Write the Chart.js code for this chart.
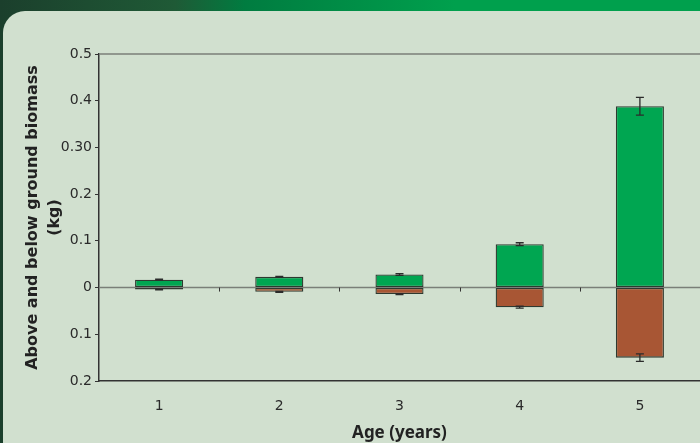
<!DOCTYPE html>
<html>
<head>
<meta charset="utf-8">
<script src="https://cdn.jsdelivr.net/npm/chart.js@4"></script>
<style>
  html, body { margin: 0; padding: 0; }
  body {
    width: 700px; height: 443px; overflow: hidden; position: relative;
    background: linear-gradient(90deg, #1b3f2c 0%, #1f5a36 25%, #007c40 35%, #00a04d 65%, #00a04d 100%);
  }
  #panel {
    position: absolute; left: 3px; top: 11px; right: 0; bottom: 0;
    background: #d1e0cf; border-top-left-radius: 22px;
  }
  #chart { position: absolute; left: 0; top: 0; }
</style>
</head>
<body>
<div id="panel"></div>
<canvas id="chart" width="700" height="443"></canvas>
<script>
const ages = ['1', '2', '3', '4', '5'];
const aboveGround = [0.017, 0.023, 0.028, 0.093, 0.388];
const belowGround = [-0.004, -0.009, -0.014, -0.042, -0.150];
const aboveErr = [0.001, 0.001, 0.002, 0.003, 0.019];
const belowErr = [0.001, 0.001, 0.001, 0.002, 0.008];
const yTicks = [0.5, 0.4, 0.3, 0.2, 0.1, 0, -0.1, -0.2];

// error bars drawn through the y scale
const errorBars = {
    id: 'errorBars',
    afterDatasetsDraw(chart) {
        const ctx = chart.ctx;
        const y = chart.scales.y;
        ctx.save();
        ctx.strokeStyle = '#2b2b2b';
        ctx.lineWidth = 1.3;
        chart.data.datasets.forEach((ds, di) => {
            const meta = chart.getDatasetMeta(di);
            meta.data.forEach((bar, i) => {
                const v = ds.data[i];
                const e = ds.errors[i];
                const y1 = y.getPixelForValue(v + e);
                const y2 = y.getPixelForValue(v - e);
                ctx.beginPath();
                ctx.moveTo(bar.x, y1);
                ctx.lineTo(bar.x, y2);
                ctx.moveTo(bar.x - 4, y1);
                ctx.lineTo(bar.x + 4, y1);
                ctx.moveTo(bar.x - 4, y2);
                ctx.lineTo(bar.x + 4, y2);
                ctx.stroke();
            });
        });
        ctx.restore();
    }
};

// grey lines at top and zero, small category ticks on the zero line
const refLines = {
    id: 'refLines',
    beforeDatasetsDraw(chart) {
        const ctx = chart.ctx;
        const x = chart.scales.x;
        const y = chart.scales.y;
        const area = chart.chartArea;
        ctx.save();
        ctx.strokeStyle = '#7a7f78';
        ctx.lineWidth = 1.5;
        [0.5, 0].forEach(v => {
            const py = y.getPixelForValue(v);
            ctx.beginPath();
            ctx.moveTo(area.left, py);
            ctx.lineTo(area.right, py);
            ctx.stroke();
        });
        const y0 = y.getPixelForValue(0);
        ctx.strokeStyle = '#333';
        ctx.lineWidth = 1;
        for (let i = 1; i < ages.length; i++) {
            const px = Math.round((x.getPixelForValue(i - 1) + x.getPixelForValue(i)) / 2) + 0.5;
            ctx.beginPath();
            ctx.moveTo(px, y0);
            ctx.lineTo(px, y0 + 4);
            ctx.stroke();
        }
        ctx.restore();
    }
};

new Chart(document.getElementById('chart'), {
    type: 'bar',
    data: {
        labels: ages,
        datasets: [
            {
                label: 'Above ground',
                data: aboveGround,
                errors: aboveErr,
                backgroundColor: '#00a651',
                borderColor: '#2e3a30',
                borderWidth: 1.3,
                borderSkipped: false
            },
            {
                label: 'Below ground',
                data: belowGround,
                errors: belowErr,
                backgroundColor: '#a85634',
                borderColor: '#2e3a30',
                borderWidth: 1.3,
                borderSkipped: false
            }
        ]
    },
    options: {
        responsive: false,
        animation: false,
        devicePixelRatio: 1,
        layout: { padding: { top: 54, right: 0, left: 0, bottom: 0 } },
        plugins: {
            legend: { display: false },
            tooltip: { enabled: false }
        },
        datasets: {
            bar: { categoryPercentage: 1, barPercentage: 0.4 }
        },
        scales: {
            x: {
                stacked: true,
                grid: { display: false },
                border: { display: true, color: '#333', width: 1.5 },
                ticks: {
                    color: '#2a2a2a',
                    font: { family: 'DejaVu Sans', size: 14 },
                    padding: 9
                },
                title: {
                    display: true,
                    text: 'Age (years)',
                    color: '#222',
                    font: { family: 'Noto Sans', size: 17, weight: 'bold' },
                    padding: { top: 0, bottom: 0 }
                },
                afterFit(scale) { scale.height = 62; }
            },
            y: {
                stacked: true,
                min: -0.2,
                max: 0.5,
                afterBuildTicks(scale) {
                    scale.ticks = yTicks.map(v => ({ value: v }));
                },
                grid: {
                    drawOnChartArea: false,
                    drawTicks: true,
                    tickLength: 4,
                    tickColor: '#333'
                },
                border: { display: true, color: '#333', width: 1.5 },
                ticks: {
                    color: '#2a2a2a',
                    font: { family: 'DejaVu Sans', size: 14 },
                    padding: 3,
                    callback(v) {
                        if (Math.abs(v - 0.3) < 1e-9) return '0.30';
                        if (Math.abs(v) < 1e-9) return '0';
                        return Math.abs(v).toFixed(1);
                    }
                },
                title: {
                    display: true,
                    text: ['Above and below ground biomass', '(kg)'],
                    color: '#222',
                    font: { family: 'DejaVu Sans', size: 16, weight: 'bold', lineHeight: 1.35 },
                    padding: { top: 22, bottom: 0 }
                },
                afterFit(scale) { scale.width = 99; }
            }
        }
    },
    plugins: [refLines, errorBars]
});
</script>
</body>
</html>
